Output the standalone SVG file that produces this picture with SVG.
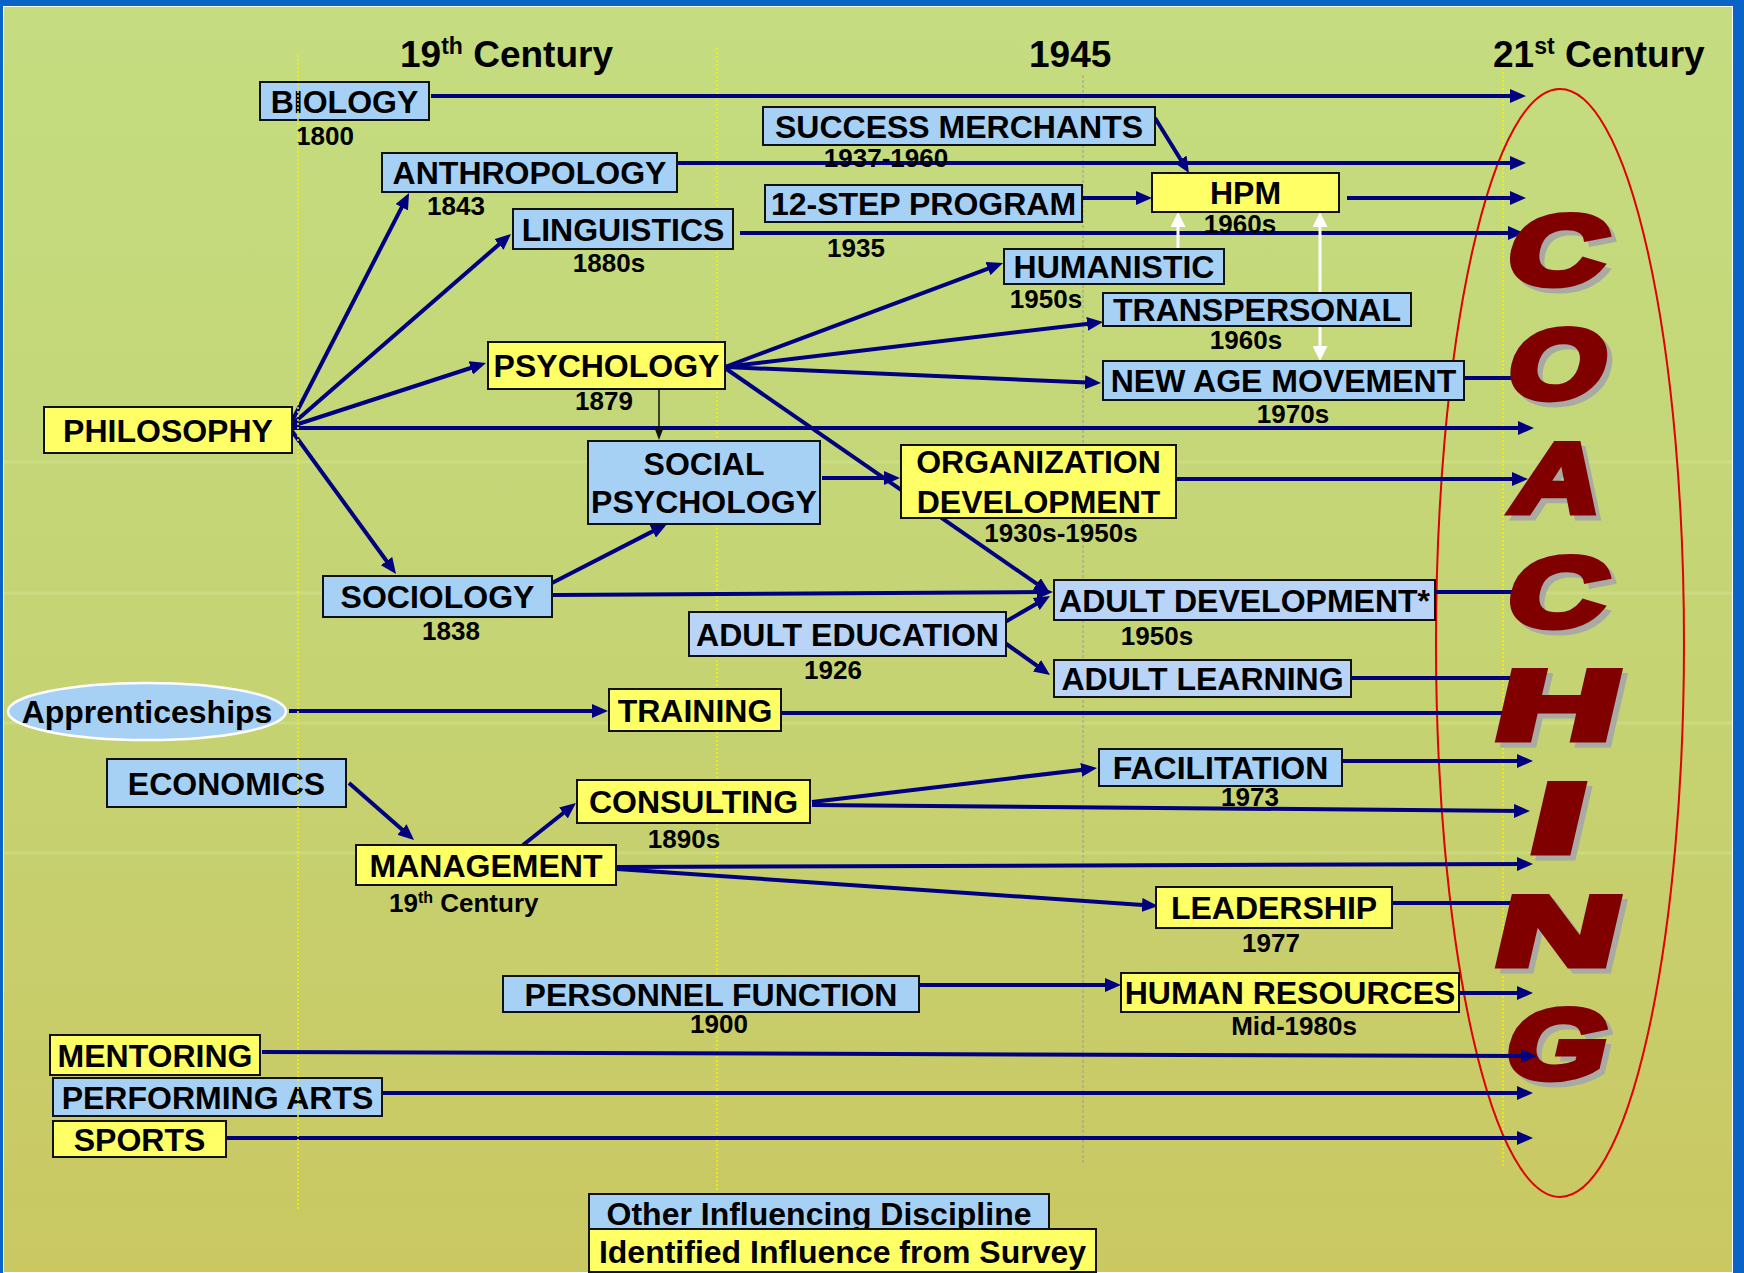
<svg xmlns="http://www.w3.org/2000/svg" width="1744" height="1273" viewBox="0 0 1744 1273">
  <defs>
    <linearGradient id="bg" x1="0" y1="0" x2="0" y2="1">
      <stop offset="0" stop-color="#c4dd80"/>
      <stop offset="0.5" stop-color="#c5d474"/>
      <stop offset="1" stop-color="#cac862"/>
    </linearGradient>
    <marker id="ah" markerUnits="userSpaceOnUse" markerWidth="16" markerHeight="14" refX="8" refY="7" orient="auto" viewBox="0 0 16 14">
      <path d="M0,0 L16,7 L0,14 z" fill="#000080"/>
    </marker>
    <marker id="ahw" markerUnits="userSpaceOnUse" markerWidth="15" markerHeight="15" refX="7" refY="7.5" orient="auto-start-reverse" viewBox="0 0 15 15">
      <path d="M0,0 L15,7.5 L0,15 z" fill="#ffffff"/>
    </marker>
    <marker id="ahk" markerUnits="userSpaceOnUse" markerWidth="12" markerHeight="9" refX="6" refY="4.5" orient="auto" viewBox="0 0 12 9">
      <path d="M0,0 L12,4.5 L0,9 z" fill="#111111"/>
    </marker>
    <style>
      .node rect { stroke: #111111; stroke-width: 2; }
      .b { fill: #a6d1f5; }
      .bl { fill: #b9d4f6; }
      .y { fill: #ffff66; }
      text { font-family: "Liberation Sans", Arial, sans-serif; font-weight: bold; fill: #000000; }
      .lbl { font-size: 32px; text-anchor: middle; }
      .yr { font-size: 26px; text-anchor: middle; }
      .ttl { font-size: 37px; }
      .conn { fill: none; stroke: #000080; stroke-width: 4; }
      .arr { marker-end: url(#ah); }
      .wh { fill: none; stroke: #ffffff; stroke-width: 3; }
      .ltr { font-size: 98px; text-anchor: middle; fill: #800000; stroke: #800000; stroke-width: 7; }
      .shd { font-size: 98px; text-anchor: middle; fill: #a9aaa3; stroke: #a9aaa3; stroke-width: 7; }
    </style>
  </defs>

  <!-- slide frame and background -->
  <rect width="1744" height="1273" fill="#0a64c8"/>
  <rect x="3" y="6" width="1730" height="1267" fill="#ffffff"/>
  <rect x="4" y="7" width="1728" height="1265" fill="url(#bg)"/>
  <g id="bg-lines" stroke="#d3e692" stroke-opacity="0.45" stroke-width="3">
    <line x1="4" y1="462" x2="1732" y2="462"/>
    <line x1="4" y1="593" x2="1732" y2="593"/>
    <line x1="4" y1="723" x2="1732" y2="723"/>
    <line x1="4" y1="853" x2="1732" y2="853"/>
  </g>

  <!-- time guides -->
  <g id="guides" fill="none">
    <line x1="717" y1="48" x2="717" y2="1190" stroke="#f4f400" stroke-width="1.5" stroke-dasharray="2 2"/>
    <line x1="1083" y1="75" x2="1083" y2="1163" stroke="#9c9c8c" stroke-width="1" stroke-dasharray="3 2"/>
    <line x1="1503" y1="68" x2="1503" y2="1167" stroke="#f4f400" stroke-width="1.5" stroke-dasharray="2 2"/>
  </g>

  <!-- era headings -->
  <g id="headings">
    <text class="ttl" x="400" y="67">19<tspan font-size="23" dy="-13">th</tspan><tspan dy="13"> Century</tspan></text>
    <text class="ttl" x="1029" y="67">1945</text>
    <text class="ttl" x="1493" y="67">21<tspan font-size="23" dy="-13">st</tspan><tspan dy="13"> Century</tspan></text>
  </g>

  <!-- coaching outline -->
  <ellipse id="coaching-ring" cx="1560" cy="643" rx="124" ry="554" fill="none" stroke="#e00000" stroke-width="2"/>

  <!-- connectors -->
  <g id="connectors">
    <path class="conn arr" d="M431,96 H1518"/>
    <path class="conn arr" d="M678,163 H1518"/>
    <path class="conn arr" d="M1155,118 L1184.8,166.2"/>
    <path class="conn arr" d="M1083,198 H1144"/>
    <path class="conn arr" d="M1347,198 H1518"/>
    <path class="conn arr" d="M740,233 H1516"/>
    <path class="conn arr" d="M289,427 L405.4,200.1"/>
    <path class="conn arr" d="M289,427 L505,239.2"/>
    <path class="conn arr" d="M289,427 L478.4,365.5"/>
    <path class="conn arr" d="M289,427 L391.3,567.5"/>
    <path class="conn arr" d="M289,428 H1526"/>
    <path class="conn arr" d="M725,367 L995.5,265.8"/>
    <path class="conn arr" d="M725,367 L1095.1,322.9"/>
    <path class="conn arr" d="M725,367 L1093,382.7"/>
    <path class="conn arr" d="M725,368 L1043.4,588.4"/>
    <path d="M659,390 V434" fill="none" stroke="#111111" stroke-width="1.5" marker-end="url(#ahk)"/>
    <path class="wh" d="M1178,249 V220" marker-end="url(#ahw)"/>
    <path class="wh" d="M1320,220 V353" marker-start="url(#ahw)" marker-end="url(#ahw)"/>
    <path class="conn" d="M1465,378 H1512"/>
    <path class="conn arr" d="M822,478 H892"/>
    <path class="conn arr" d="M1177,479 H1520"/>
    <path class="conn arr" d="M552,583 L659.9,527.6"/>
    <path class="conn arr" d="M552,595 L1045,592"/>
    <path class="conn arr" d="M1005,622 L1043.1,600"/>
    <path class="conn arr" d="M1005,643 L1043.5,670.4"/>
    <path class="conn" d="M1436,592 H1512"/>
    <path class="conn arr" d="M1352,678 H1520"/>
    <path class="conn arr" d="M289,711 H600"/>
    <path class="conn" d="M782,713 H1512"/>
    <path class="conn arr" d="M349,783 L408,834.7"/>
    <path class="conn arr" d="M523,845 L569.7,808"/>
    <path class="conn arr" d="M812,802 L1089.1,768.9"/>
    <path class="conn arr" d="M1343,761 H1525"/>
    <path class="conn arr" d="M812,805 L1522,811"/>
    <path class="conn arr" d="M617,867 L1525,864"/>
    <path class="conn arr" d="M617,869 L1150,905.5"/>
    <path class="conn" d="M1393,903 H1515"/>
    <path class="conn arr" d="M920,985 H1113"/>
    <path class="conn arr" d="M1460,993 H1525"/>
    <path class="conn arr" d="M383,1093 H1525"/>
    <path class="conn arr" d="M227,1138 H1525"/>
  </g>

  <!-- nodes -->
  <g id="biology" class="node">
    <rect class="b" x="260" y="82" width="169" height="38"/>
    <text class="lbl" x="344.5" y="112.5">BIOLOGY</text>
    <text class="yr" x="325" y="145">1800</text>
  </g>
  <g id="success-merchants" class="node">
    <rect class="b" x="763" y="107" width="392" height="38"/>
    <text class="lbl" x="959" y="137.5">SUCCESS MERCHANTS</text>
    <text class="yr" x="886" y="167">1937-1960</text>
  </g>
  <g id="anthropology" class="node">
    <rect class="b" x="382" y="153" width="295" height="39"/>
    <text class="lbl" x="529.5" y="184">ANTHROPOLOGY</text>
    <text class="yr" x="456" y="215">1843</text>
  </g>
  <g id="twelve-step" class="node">
    <rect class="b" x="765" y="185" width="317" height="37"/>
    <text class="lbl" x="923.5" y="215">12-STEP PROGRAM</text>
    <text class="yr" x="856" y="257">1935</text>
  </g>
  <g id="hpm" class="node">
    <rect class="y" x="1152" y="173" width="187" height="39"/>
    <text class="lbl" x="1245.5" y="204">HPM</text>
    <text class="yr" x="1240" y="233">1960s</text>
  </g>
  <g id="linguistics" class="node">
    <rect class="b" x="513" y="209" width="220" height="40"/>
    <text class="lbl" x="623" y="240.5">LINGUISTICS</text>
    <text class="yr" x="609" y="272">1880s</text>
  </g>
  <g id="humanistic" class="node">
    <rect class="b" x="1004" y="249" width="220" height="35"/>
    <text class="lbl" x="1114" y="278">HUMANISTIC</text>
    <text class="yr" x="1046" y="308">1950s</text>
  </g>
  <g id="transpersonal" class="node">
    <rect class="b" x="1103" y="293" width="308" height="33"/>
    <text class="lbl" x="1257" y="321">TRANSPERSONAL</text>
    <text class="yr" x="1246" y="349">1960s</text>
  </g>
  <g id="psychology" class="node">
    <rect class="y" x="488" y="342" width="237" height="47"/>
    <text class="lbl" x="606.5" y="377">PSYCHOLOGY</text>
    <text class="yr" x="604" y="410">1879</text>
  </g>
  <g id="new-age" class="node">
    <rect class="b" x="1103" y="361" width="361" height="39"/>
    <text class="lbl" x="1283.5" y="392">NEW AGE MOVEMENT</text>
    <text class="yr" x="1293" y="423">1970s</text>
  </g>
  <g id="philosophy" class="node">
    <rect class="y" x="44" y="407" width="248" height="46"/>
    <text class="lbl" x="168" y="441.5">PHILOSOPHY</text>
  </g>
  <g id="social-psychology" class="node">
    <rect class="b" x="588" y="441" width="232" height="83"/>
    <text class="lbl" x="704" y="475">SOCIAL</text>
    <text class="lbl" x="704" y="513">PSYCHOLOGY</text>
  </g>
  <g id="organization-development" class="node">
    <rect class="y" x="901" y="445" width="275" height="73"/>
    <text class="lbl" x="1038.5" y="473">ORGANIZATION</text>
    <text class="lbl" x="1038.5" y="513">DEVELOPMENT</text>
    <text class="yr" x="1061" y="542">1930s-1950s</text>
  </g>
  <g id="sociology" class="node">
    <rect class="b" x="323" y="576" width="229" height="41"/>
    <text class="lbl" x="437.5" y="608">SOCIOLOGY</text>
    <text class="yr" x="451" y="640">1838</text>
  </g>
  <g id="adult-development" class="node">
    <rect class="bl" x="1054" y="580" width="381" height="40"/>
    <text class="lbl" x="1244.5" y="611.5">ADULT DEVELOPMENT*</text>
    <text class="yr" x="1157" y="645">1950s</text>
  </g>
  <g id="adult-education" class="node">
    <rect class="bl" x="689" y="612" width="317" height="44"/>
    <text class="lbl" x="847.5" y="645.5">ADULT EDUCATION</text>
    <text class="yr" x="833" y="679">1926</text>
  </g>
  <g id="adult-learning" class="node">
    <rect class="bl" x="1054" y="660" width="297" height="37"/>
    <text class="lbl" x="1202.5" y="690">ADULT LEARNING</text>
  </g>
  <g id="apprenticeships" class="node">
    <ellipse cx="147" cy="711.5" rx="139" ry="28.5" fill="#a6d1f5" stroke="#ffffff" stroke-width="2.5"/>
    <text class="lbl" x="147" y="723">Apprenticeships</text>
  </g>
  <g id="training" class="node">
    <rect class="y" x="609" y="689" width="172" height="42"/>
    <text class="lbl" x="695" y="721.5">TRAINING</text>
  </g>
  <g id="economics" class="node">
    <rect class="b" x="107" y="759" width="239" height="48"/>
    <text class="lbl" x="226.5" y="794.5">ECONOMICS</text>
  </g>
  <g id="consulting" class="node">
    <rect class="y" x="577" y="780" width="233" height="43"/>
    <text class="lbl" x="693.5" y="813">CONSULTING</text>
    <text class="yr" x="684" y="848">1890s</text>
  </g>
  <g id="facilitation" class="node">
    <rect class="b" x="1099" y="749" width="243" height="37"/>
    <text class="lbl" x="1220.5" y="779">FACILITATION</text>
    <text class="yr" x="1250" y="806">1973</text>
  </g>
  <g id="management" class="node">
    <rect class="y" x="356" y="845" width="260" height="40"/>
    <text class="lbl" x="486" y="876.5">MANAGEMENT</text>
    <text class="yr" x="389" y="912" style="text-anchor:start">19<tspan font-size="16" dy="-9">th</tspan><tspan dy="9"> Century</tspan></text>
  </g>
  <g id="leadership" class="node">
    <rect class="y" x="1156" y="887" width="236" height="41"/>
    <text class="lbl" x="1274" y="919">LEADERSHIP</text>
    <text class="yr" x="1271" y="952">1977</text>
  </g>
  <g id="personnel-function" class="node">
    <rect class="b" x="503" y="976" width="416" height="36"/>
    <text class="lbl" x="711" y="1005.5">PERSONNEL FUNCTION</text>
    <text class="yr" x="719" y="1033">1900</text>
  </g>
  <g id="human-resources" class="node">
    <rect class="y" x="1121" y="973" width="338" height="39"/>
    <text class="lbl" x="1290" y="1004">HUMAN RESOURCES</text>
    <text class="yr" x="1294" y="1035">Mid-1980s</text>
  </g>
  <g id="mentoring" class="node">
    <rect class="y" x="50" y="1035" width="210" height="40"/>
    <text class="lbl" x="155" y="1066.5">MENTORING</text>
  </g>
  <g id="performing-arts" class="node">
    <rect class="b" x="53" y="1078" width="329" height="38"/>
    <text class="lbl" x="217.5" y="1108.5">PERFORMING ARTS</text>
  </g>
  <g id="sports" class="node">
    <rect class="y" x="53" y="1121" width="173" height="36"/>
    <text class="lbl" x="139.5" y="1150.5">SPORTS</text>
  </g>

  <!-- legend -->
  <g id="legend" class="node">
    <rect class="b" x="589" y="1194" width="460" height="35"/>
    <text class="lbl" x="819" y="1225">Other Influencing Discipline</text>
    <rect class="y" x="589" y="1229" width="507" height="43"/>
    <text class="lbl" x="842.5" y="1263">Identified Influence from Survey</text>
  </g>

  <!-- 19th century guide drawn over the boxes it crosses -->
  <line id="guide-1800" x1="298" y1="55" x2="298" y2="1210" stroke="#f4f400" stroke-width="1.5" stroke-dasharray="2 2"/>

  <!-- COACHING lettering -->
  <g id="coaching">
    <text class="shd" transform="translate(1556,289) skewX(-13) scale(1.37,1)">C</text>
    <text class="ltr" transform="translate(1551,284) skewX(-13) scale(1.37,1)">C</text>
    <text class="shd" transform="translate(1556,403) skewX(-13) scale(1.26,1)">O</text>
    <text class="ltr" transform="translate(1551,398) skewX(-13) scale(1.26,1)">O</text>
    <text class="shd" transform="translate(1556,517) skewX(-13) scale(1.22,1)">A</text>
    <text class="ltr" transform="translate(1551,512) skewX(-13) scale(1.22,1)">A</text>
    <text class="shd" transform="translate(1556,631) skewX(-13) scale(1.37,1)">C</text>
    <text class="ltr" transform="translate(1551,626) skewX(-13) scale(1.37,1)">C</text>
    <text class="shd" transform="translate(1556,744) skewX(-13) scale(1.72,1)">H</text>
    <text class="ltr" transform="translate(1551,739) skewX(-13) scale(1.72,1)">H</text>
    <text class="shd" transform="translate(1556,857) skewX(-13) scale(1.9,1)">I</text>
    <text class="ltr" transform="translate(1551,852) skewX(-13) scale(1.9,1)">I</text>
    <text class="shd" transform="translate(1556,970) skewX(-13) scale(1.72,1)">N</text>
    <text class="ltr" transform="translate(1551,965) skewX(-13) scale(1.72,1)">N</text>
    <text class="shd" transform="translate(1556,1083) skewX(-13) scale(1.31,1)">G</text>
    <text class="ltr" transform="translate(1551,1078) skewX(-13) scale(1.31,1)">G</text>
  </g>

  <!-- mentoring connector sits in front of the lettering -->
  <g id="connectors-front">
    <path class="conn arr" d="M262,1052 L1529,1056"/>
  </g>
</svg>
